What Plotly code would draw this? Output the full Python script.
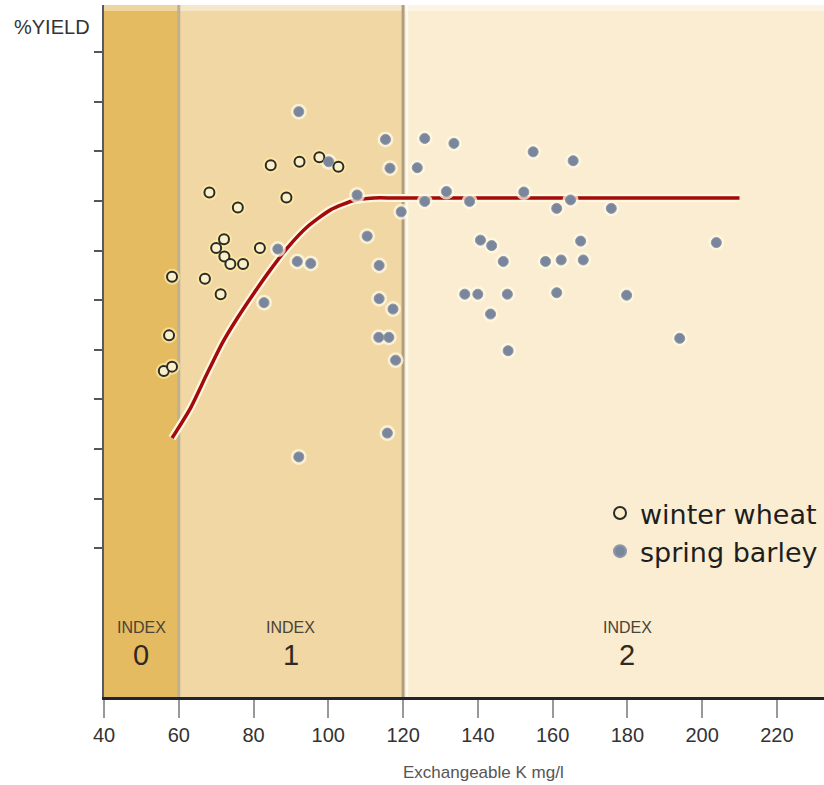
import plotly.graph_objects as go

# ---- data ----
wheat_x = [58.2, 57.4, 56.0, 58.2, 67.0, 71.2, 68.2, 75.8, 84.6, 88.8, 92.3, 97.6, 102.7,
           72.1, 70.0, 72.2, 73.8, 77.2, 81.7]
wheat_y = [84.7, 72.9, 65.7, 66.6, 84.3, 81.2, 101.7, 98.7, 107.2, 100.7, 107.9, 108.8, 106.9,
           92.3, 90.5, 88.8, 87.3, 87.3, 90.5]

barley_x = [92.1, 86.5, 91.7, 95.3, 82.8, 92.1, 100.1, 107.7, 110.4, 113.6, 113.6, 115.8,
            115.3, 125.8, 133.6, 154.8, 165.5, 116.5, 123.8, 131.6, 152.3, 125.8, 137.8,
            119.5, 161.1, 164.8, 175.7, 140.7, 143.7, 167.5, 203.8, 146.8, 158.1, 162.3,
            168.2, 117.3, 136.5, 140.0, 147.9, 161.1, 179.8, 143.4, 113.5, 116.2, 194.0,
            148.1, 118.0]
barley_y = [118.0, 90.3, 87.8, 87.4, 79.5, 48.4, 107.9, 101.2, 92.9, 87.0, 80.3, 53.2,
            112.4, 112.6, 111.6, 109.9, 108.1, 106.6, 106.7, 101.9, 101.8, 99.9, 99.9,
            97.8, 98.5, 100.2, 98.5, 92.1, 91.0, 91.9, 91.6, 87.8, 87.8, 88.1,
            88.1, 78.2, 81.2, 81.2, 81.2, 81.5, 81.0, 77.2, 72.5, 72.5, 72.3,
            69.8, 67.9]

curve_x = [58.2, 63.1, 67.2, 71.6, 75.6, 80.1, 84.5, 89.0, 94.4, 100.6, 106.8, 112.2, 118.0, 210.0]
curve_y = [52.2, 58.2, 64.6, 71.3, 76.3, 81.4, 86.1, 90.5, 94.8, 98.2, 100.1, 100.6, 100.6, 100.6]

index_edges = [40, 60, 120, 232.6]
index_colors = ["#E5BB62", "#F1D7A3", "#FAEDD2"]
index_names = ["0", "1", "2"]
index_label_x = [50, 90, 180]

x_ticks = [40, 60, 80, 100, 120, 140, 160, 180, 200, 220]
y_ticks = [30, 40, 50, 60, 70, 80, 90, 100, 110, 120, 130]

FONT = "Liberation Sans, Arial"

fig = go.Figure()

# curve (halo + line)
fig.add_trace(go.Scatter(x=curve_x, y=curve_y, mode="lines", line=dict(color="#FFF7DF", width=8, shape="spline", smoothing=0.6),
                         showlegend=False, hoverinfo="skip"))
fig.add_trace(go.Scatter(x=curve_x, y=curve_y, mode="lines", line=dict(color="#A30A0A", width=3.5, shape="spline", smoothing=0.6),
                         showlegend=False))

# halos
fig.add_trace(go.Scatter(x=barley_x, y=barley_y, mode="markers",
                         marker=dict(size=16, color="rgba(255,248,225,0.75)"),
                         showlegend=False, hoverinfo="skip"))
fig.add_trace(go.Scatter(x=wheat_x, y=wheat_y, mode="markers",
                         marker=dict(size=16, color="rgba(255,236,160,0.7)"),
                         showlegend=False, hoverinfo="skip"))

fig.add_trace(go.Scatter(x=wheat_x, y=wheat_y, mode="markers", name="winter wheat",
                         marker=dict(size=10, color="#FBEFC8", line=dict(color="#2A2A2A", width=2))))
fig.add_trace(go.Scatter(x=barley_x, y=barley_y, mode="markers", name="spring barley",
                         marker=dict(size=10, color="#7A869C", line=dict(color="#8E97AA", width=1))))

shapes = []
for i in range(3):
    shapes.append(dict(type="rect", xref="x", yref="paper", x0=index_edges[i], x1=index_edges[i + 1],
                       y0=0, y1=1, fillcolor=index_colors[i], line=dict(width=0), layer="below"))
# lighter top strip
shapes.append(dict(type="rect", xref="paper", yref="paper", x0=0, x1=1, y0=1 - 6 / 692, y1=1,
                   fillcolor="rgba(255,255,255,0.4)", line=dict(width=0), layer="below"))
# boundaries
shapes.append(dict(type="line", xref="x", yref="paper", x0=index_edges[1], x1=index_edges[1], y0=0, y1=1,
                   line=dict(color="#BDB095", width=3), layer="below"))
shapes.append(dict(type="line", xref="x", yref="paper", x0=index_edges[2], x1=index_edges[2], y0=0, y1=1,
                   line=dict(color="#B09E7C", width=3), layer="below"))
shapes.append(dict(type="line", xref="x", yref="paper", x0=index_edges[2] + 1.1, x1=index_edges[2] + 1.1, y0=0, y1=1,
                   line=dict(color="rgba(255,255,255,0.7)", width=2), layer="below"))

annotations = []
for xv, nm in zip(index_label_x, index_names):
    annotations.append(dict(x=xv, y=14.1, xref="x", yref="y", text="INDEX", showarrow=False,
                            yanchor="middle", font=dict(family=FONT, size=16, color="#4A4336")))
    annotations.append(dict(x=xv, y=8.5, xref="x", yref="y", text=nm, showarrow=False,
                            yanchor="middle", font=dict(family=FONT, size=29, color="#2E2A22")))
annotations.append(dict(x=(12 - 104) / 720, y=(697 - 27) / 692, xref="paper", yref="paper", text="%YIELD",
                        showarrow=False, xanchor="left", yanchor="middle",
                        font=dict(family=FONT, size=20, color="#333333")))
annotations.append(dict(x=141.5, y=(697 - 772) / 692, xref="x", yref="paper", text="Exchangeable K mg/l",
                        showarrow=False, xanchor="center", yanchor="middle",
                        font=dict(family=FONT, size=17, color="#555555")))

fig.update_layout(
    width=824, height=785,
    margin=dict(l=104, r=0, t=5, b=88),
    paper_bgcolor="white", plot_bgcolor="white",
    shapes=shapes, annotations=annotations,
    showlegend=True,
    legend=dict(x=(600 - 104) / 720, y=(697 - 489) / 692, xanchor="left", yanchor="top",
                bgcolor="rgba(0,0,0,0)", font=dict(family="DejaVu Sans", size=27, color="#1E1E1E"),
                itemsizing="constant"),
    xaxis=dict(range=[40, 232.6], tickvals=x_ticks, ticks="outside", ticklen=18, tickwidth=2,
               tickcolor="#999999", showgrid=False, zeroline=False, showline=True, linecolor="#22252E",
               linewidth=3, tickfont=dict(family=FONT, size=20, color="#333333")),
    yaxis=dict(range=[0, 139.5], tickvals=y_ticks, ticks="outside", ticklen=8, tickwidth=2,
               tickcolor="#555555", showticklabels=False, showgrid=False, zeroline=False,
               showline=True, linecolor="#555A66", linewidth=2),
)

fig.write_html("out.html")
